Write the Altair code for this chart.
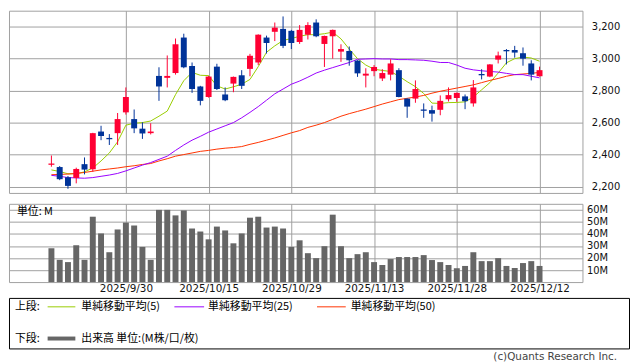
import altair as alt
import pandas as pd

# ---------------- data ----------------
dates = [
    "2025/9/16", "2025/9/17", "2025/9/18", "2025/9/19", "2025/9/22", "2025/9/24", "2025/9/25", "2025/9/26", "2025/9/29", "2025/9/30",
    "2025/10/1", "2025/10/2", "2025/10/3", "2025/10/6", "2025/10/7", "2025/10/8", "2025/10/9", "2025/10/10", "2025/10/14", "2025/10/15",
    "2025/10/16", "2025/10/17", "2025/10/20", "2025/10/21", "2025/10/22", "2025/10/23", "2025/10/24", "2025/10/27", "2025/10/28", "2025/10/29",
    "2025/10/30", "2025/10/31", "2025/11/4", "2025/11/5", "2025/11/6", "2025/11/7", "2025/11/10", "2025/11/11", "2025/11/12", "2025/11/13",
    "2025/11/14", "2025/11/17", "2025/11/18", "2025/11/19", "2025/11/20", "2025/11/21", "2025/11/25", "2025/11/26", "2025/11/27", "2025/11/28",
    "2025/12/1", "2025/12/2", "2025/12/3", "2025/12/4", "2025/12/5", "2025/12/8", "2025/12/9", "2025/12/10", "2025/12/11", "2025/12/12",
]
opens = [2336, 2322, 2258, 2254, 2340, 2308, 2544, 2504, 2534, 2664,
         2622, 2562, 2534, 2892, 2880, 2910, 3132, 2954, 2826, 2760,
         2950, 2776, 2844, 2896, 2936, 2976, 3132, 3168, 3186, 3174,
         3104, 3150, 3226, 3092, 3140, 3044, 3048, 2988, 2894, 2922,
         2876, 2900, 2928, 2750, 2750, 2682, 2678, 2680, 2746, 2754,
         2764, 2720, 2904, 2888, 2994, 3054, 3054, 3034, 2970, 2890]
highs = [2394, 2328, 2266, 2318, 2382, 2536, 2580, 2528, 2660, 2820,
         2682, 2602, 2596, 2946, 3020, 3126, 3156, 2976, 2830, 2892,
         2968, 2820, 2888, 2928, 3030, 3152, 3144, 3226, 3264, 3180,
         3210, 3228, 3246, 3144, 3182, 3090, 3076, 2990, 2940, 2960,
         2934, 2996, 2940, 2752, 2864, 2720, 2706, 2770, 2820, 2788,
         2776, 2866, 2934, 2966, 3044, 3060, 3080, 3070, 2990, 2950]
lows = [2324, 2240, 2186, 2220, 2276, 2292, 2490, 2460, 2460, 2650,
        2534, 2498, 2526, 2736, 2820, 2900, 2940, 2786, 2708, 2756,
        2804, 2734, 2790, 2810, 2890, 2960, 3032, 3110, 3066, 3060,
        3092, 3120, 3134, 2948, 3000, 2980, 2956, 2886, 2820, 2890,
        2860, 2864, 2758, 2630, 2724, 2630, 2606, 2646, 2732, 2730,
        2684, 2700, 2870, 2884, 2970, 2964, 3006, 2956, 2864, 2888]
closes = [2344, 2246, 2204, 2310, 2306, 2534, 2516, 2496, 2622, 2760,
          2564, 2532, 2544, 2826, 2892, 3090, 2946, 2810, 2736, 2888,
          2810, 2740, 2886, 2830, 3018, 3150, 3098, 3194, 3080, 3098,
          3180, 3210, 3140, 3142, 3180, 3060, 2990, 2908, 2906, 2948,
          2910, 2970, 2760, 2700, 2810, 2674, 2656, 2736, 2772, 2786,
          2734, 2820, 2896, 2964, 3020, 3046, 3038, 3000, 2900, 2928]
ma5 = [2304, 2294, 2280, 2280, 2292, 2316, 2360, 2410, 2480, 2584,
       2596, 2600, 2610, 2640, 2672, 2775, 2862, 2914, 2896, 2894,
       2830, 2810, 2824, 2840, 2870, 2950, 3040, 3080, 3114, 3126,
       3140, 3150, 3150, 3156, 3166, 3124, 3060, 3000, 2960, 2934,
       2926, 2920, 2890, 2856, 2825, 2782, 2722, 2720, 2725, 2726,
       2730, 2760, 2805, 2850, 2910, 2974, 3000, 3010, 3004, 2984]
ma25 = [2270, 2264, 2256, 2254, 2252, 2256, 2264, 2272, 2282, 2298,
        2316, 2334, 2350, 2370, 2390, 2426, 2460, 2490, 2514, 2540,
        2560, 2580, 2600, 2630, 2664, 2700, 2740, 2780, 2810, 2840,
        2860, 2884, 2910, 2928, 2944, 2960, 2976, 2996, 2998, 3000,
        2998, 2998, 2994, 2994, 2992, 2990, 2984, 2976, 2976, 2960,
        2940, 2930, 2924, 2920, 2916, 2908, 2900, 2900, 2890, 2880]
ma50 = [2274, 2276, 2278, 2282, 2288, 2296, 2304, 2310, 2316, 2324,
        2330, 2338, 2344, 2360, 2374, 2390, 2400, 2410, 2420, 2426,
        2434, 2440, 2444, 2450, 2464, 2476, 2490, 2504, 2520, 2536,
        2550, 2570, 2584, 2600, 2620, 2640, 2656, 2670, 2684, 2700,
        2716, 2730, 2744, 2752, 2760, 2770, 2784, 2796, 2806, 2816,
        2826, 2836, 2850, 2864, 2876, 2890, 2900, 2904, 2908, 2914]
volume_m = [28.1, 18.5, 16.6, 30.6, 18.5, 54.3, 40.4, 24.8, 43.7, 49.4,
            47.0, 29.2, 18.5, 60.0, 60.0, 55.4, 59.5, 44.5, 42.0, 35.5,
            46.1, 42.9, 32.2, 40.4, 53.5, 54.3, 45.3, 46.1, 44.5, 29.2,
            34.7, 24.0, 19.9, 29.8, 56.0, 29.8, 19.9, 23.2, 24.8, 16.6,
            14.2, 19.1, 20.8, 20.8, 20.8, 22.4, 18.3, 16.6, 14.2, 11.5,
            13.4, 24.8, 17.4, 17.4, 19.9, 13.4, 11.7, 15.8, 17.4, 13.4]

tick_dates = ["2025/9/30", "2025/10/15", "2025/10/29", "2025/11/13", "2025/11/28", "2025/12/12"]
price_ticks = [2200, 2400, 2600, 2800, 3000, 3200]
volume_ticks = [10, 20, 30, 40, 50, 60]
legend_upper = ["単純移動平均(5)", "単純移動平均(25)", "単純移動平均(50)"]
legend_lower = "出来高 単位:(M株/口/枚)"

# ---------------- styling ----------------
RED = "#FF0033"
BLUE = "#003399"
C5 = "#99CC00"
C25 = "#9900FF"
C50 = "#FF3300"
VOL = "#666666"
GRID = "#A0A0A0"
FONT = "DejaVu Sans"
JP = "Noto Sans CJK JP"

df = pd.DataFrame({
    "date": dates, "open": opens, "high": highs, "low": lows, "close": closes,
    "ma5": ma5, "ma25": ma25, "ma50": ma50, "vol": volume_m,
})
df["i"] = list(range(len(dates)))
df["dir"] = ["up" if c >= o else "down" for o, c in zip(opens, closes)]

tick_idx = [dates.index(d) for d in tick_dates]
label_expr = " : ".join(f"datum.value == {i} ? '{d}'" for i, d in zip(tick_idx, tick_dates)) + " : ''"

xscale = alt.Scale(domain=[-4.53, 63.59], nice=False, zero=False)
pscale = alt.Scale(domain=[2160, 3300], nice=False, zero=False)
vscale = alt.Scale(domain=[0, 65], nice=False)
cscale = alt.Scale(domain=["up", "down"], range=[RED, BLUE])

x_axis_upper = alt.Axis(values=tick_idx, labels=False, ticks=False, domain=False,
                        grid=True, gridColor=GRID)
y_axis_price = alt.Axis(orient="right", values=price_ticks,
                        labelExpr="format(datum.value, ',')", labelOverlap=False,
                        ticks=False, domain=False, grid=True, gridColor=GRID,
                        labelPadding=9, labelFontSize=10, labelFont=FONT, labelColor="#111")


def xu():
    return alt.X("i:Q", scale=xscale, title=None, axis=x_axis_upper)


def yp(field):
    return alt.Y(f"{field}:Q", scale=pscale, title=None, axis=y_axis_price)


base = alt.Chart(df)
line5 = base.mark_line(color=C5, strokeWidth=1).encode(x=xu(), y=yp("ma5"))
line25 = base.mark_line(color=C25, strokeWidth=1).encode(x=xu(), y=yp("ma25"))
line50 = base.mark_line(color=C50, strokeWidth=1).encode(x=xu(), y=yp("ma50"))
wicks = base.mark_rule(strokeWidth=1).encode(
    x=xu(), y=yp("low"), y2="high:Q",
    color=alt.Color("dir:N", scale=cscale, legend=None))
bodies = base.mark_bar(size=6).encode(
    x=xu(), y=yp("open"), y2="close:Q",
    color=alt.Color("dir:N", scale=cscale, legend=None))

upper = alt.layer(line5, line50, line25, wicks, bodies).properties(width=579, height=184)

vol_bars = base.mark_bar(size=6, color=VOL).encode(
    x=alt.X("i:Q", scale=xscale, title=None,
            axis=alt.Axis(values=tick_idx, labelExpr=label_expr, ticks=False, domain=False,
                          grid=True, gridColor=GRID, labelPadding=2, labelFontSize=10.5,
                          labelFont=FONT, labelColor="#111", labelFlush=False,
                          labelOverlap=False)),
    y=alt.Y("vol:Q", scale=vscale, title=None,
            axis=alt.Axis(orient="right", values=volume_ticks, labelExpr="datum.value + 'M'",
                          labelOverlap=False, ticks=False, domain=False, grid=True,
                          gridColor=GRID, labelPadding=4, labelFontSize=10, labelFont=FONT,
                          labelColor="#111")))
one = pd.DataFrame({"k": [0]})
unit_label = alt.Chart(one).mark_text(text="単位: M", align="left", baseline="middle",
                                       font=JP, fontSize=11, color="#000").encode(
    x=alt.value(8), y=alt.value(8))
volume = alt.layer(vol_bars, unit_label).properties(width=579, height=79)

# ---------------- legend box ----------------
def txt(s, x, y):
    return alt.Chart(one).mark_text(text=s, align="left", baseline="middle", font=JP,
                                    fontSize=11, color="#000").encode(
        x=alt.value(x), y=alt.value(y))


def seg(color, x1, x2, y, w):
    return alt.Chart(one).mark_rule(color=color, strokeWidth=w).encode(
        x=alt.value(x1), x2=alt.value(x2), y=alt.value(y))


legend = alt.layer(
    txt("上段:", 6, 9),
    seg(C5, 39, 67, 9, 1), txt(legend_upper[0], 73, 9),
    seg(C25, 167, 197, 9, 1), txt(legend_upper[1], 201, 9),
    seg(C50, 311, 340, 9, 1), txt(legend_upper[2], 345, 9),
    txt("下段:", 6, 41),
    seg(VOL, 39, 67, 41, 4), txt(legend_lower, 73, 41),
    alt.Chart(one).mark_text(text="(c)Quants Research Inc.", align="right", baseline="middle",
                             font=FONT, fontSize=10.5, color="#444").encode(
        x=alt.value(614), y=alt.value(60)),
).properties(width=626, height=51, view=alt.ViewBackground(stroke="#000", strokeWidth=1))

top = alt.vconcat(upper, volume, spacing=9)
chart = alt.vconcat(top, legend, spacing=2, padding=0).configure_view(
    stroke=GRID, strokeWidth=1).configure_axis(labelFont=FONT)

chart.save("out.html", embed_options={"renderer": "svg", "actions": False})
